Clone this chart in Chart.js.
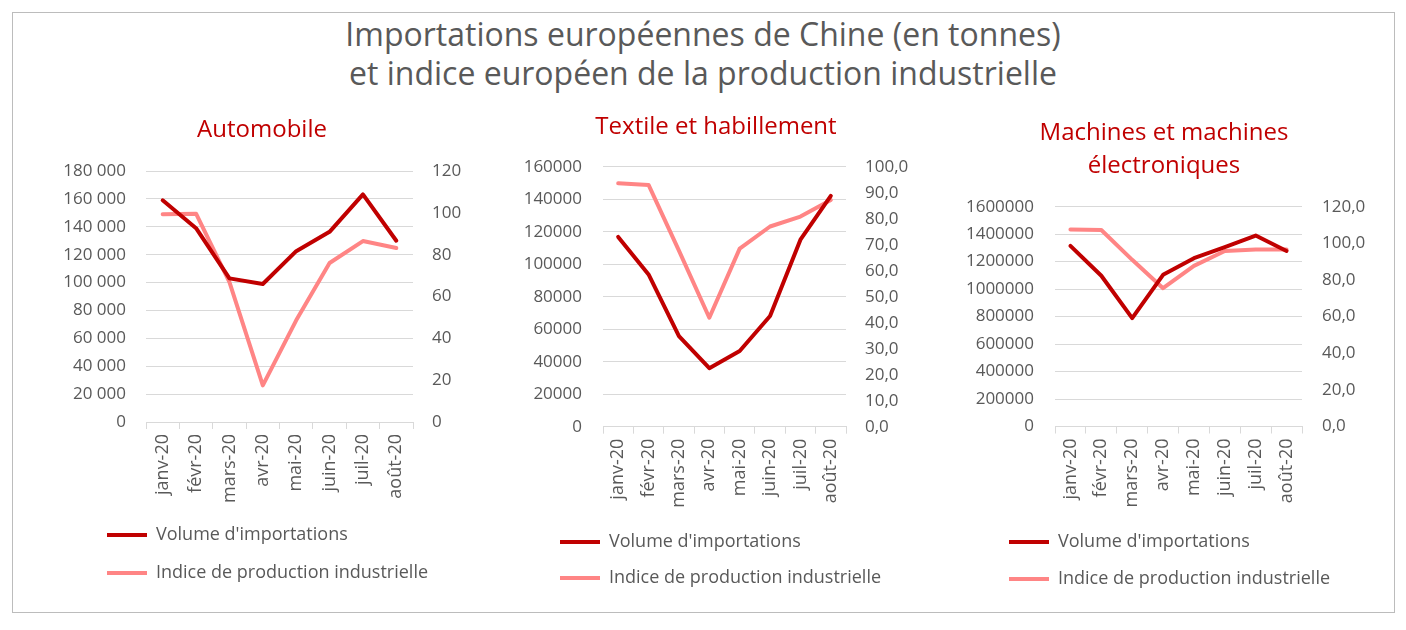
<!DOCTYPE html>
<html>
<head>
<meta charset="utf-8">
<script src="https://cdn.jsdelivr.net/npm/chart.js@4.4.1/dist/chart.umd.min.js"></script>
<style>
  html, body { margin:0; padding:0; background:#fff; }
  body { width:1406px; height:630px; position:relative; overflow:hidden; font-family:'Open Sans', sans-serif; }
  #frame { position:absolute; left:12px; top:12px; width:1381px; height:599px; border:1px solid #bcbcbc; }
  #mainTitle { position:absolute; left:0; width:1406px; top:14px; text-align:center; font-size:32px; line-height:39px; color:#595959; }
  canvas { position:absolute; }
</style>
</head>
<body>
<div id="frame"></div>
<div id="mainTitle">Importations européennes de Chine (en tonnes)<br>et indice européen de la production industrielle</div>
<canvas id="c1" style="left:30px;top:108px;width:464px;height:484px"></canvas>
<canvas id="c2" style="left:490px;top:100px;width:452px;height:497px"></canvas>
<canvas id="c3" style="left:940px;top:100px;width:448px;height:498px"></canvas>
<script>
// ---- data ----
const months = ['janv-20','févr-20','mars-20','avr-20','mai-20','juin-20','juil-20','août-20'];
const seriesNames = ["Volume d'importations", 'Indice de production industrielle'];

const autoVolume = [159000, 139000, 103000, 99000, 122500, 136400, 163200, 130000];
const autoIndex  = [99.3, 99.6, 66.9, 17.5, 48.6, 76.0, 86.5, 83.2];

const textileVolume = [116800, 93700, 55800, 36000, 46600, 68100, 115100, 142100];
const textileIndex  = [93.6, 93.0, 67.7, 41.9, 68.5, 77.0, 80.8, 87.2];

const machinesVolume = [1315000, 1097000, 789000, 1104000, 1225000, 1305000, 1390000, 1278000];
const machinesIndex  = [107.6, 107.3, 91.0, 75.5, 87.7, 95.8, 96.7, 96.7];

const panelTitles = ['Automobile', 'Textile et habillement', ['Machines et machines', 'électroniques']];

// ---- styles ----
const DARK = '#C00000';
const LIGHT = '#FF8585';
const GRAY = '#595959';
const GRID = '#D9D9D9';
Chart.defaults.font.family = "'Open Sans', sans-serif";
Chart.defaults.color = GRAY;

const fmtSpace = v => String(v).replace(/\B(?=(\d{3})+(?!\d))/g, ' ');
const fmtPlain = v => String(v);
const fmtComma1 = v => Number(v).toFixed(1).replace('.', ',');

// shifts the (vertical, start-aligned) legend horizontally after layout
const legendShift = {
  id: 'legendShift',
  afterLayout(chart, args, opts) {
    const lg = chart.legend;
    if (lg && opts.dx) { lg.left += opts.dx; lg.right += opts.dx; }
  }
};

function makeChart(id, p) {
  new Chart(document.getElementById(id), {
    type: 'line',
    plugins: [legendShift],
    data: {
      labels: months,
      datasets: [
        { label: seriesNames[0], data: p.volume, yAxisID: 'y', borderColor: DARK, backgroundColor: DARK,
          borderWidth: 4, pointRadius: 0, tension: 0, borderCapStyle: 'round', borderJoinStyle: 'round' },
        { label: seriesNames[1], data: p.index, yAxisID: 'y1', borderColor: LIGHT, backgroundColor: LIGHT,
          borderWidth: 4, pointRadius: 0, tension: 0, borderCapStyle: 'round', borderJoinStyle: 'round' }
      ]
    },
    options: {
      responsive: false,
      animation: false,
      devicePixelRatio: 1,
      layout: { padding: { left: 0, right: 0, top: 0, bottom: 0 } },
      plugins: {
        tooltip: { enabled: false },
        legendShift: { dx: p.legDx },
        title: {
          display: true, text: p.title, color: DARK,
          font: { size: 24, weight: 'normal', lineHeight: p.titleLH },
          padding: { top: p.titleTop, bottom: p.titleBottom }
        },
        legend: {
          position: 'bottom', align: 'start',
          labels: {
            usePointStyle: true, pointStyle: 'line', pointStyleWidth: 40,
            padding: p.legPad, color: GRAY, font: { size: 18 }
          }
        }
      },
      scales: {
        x: {
          offset: true,
          grid: { offset: true, drawOnChartArea: false, drawTicks: true, tickLength: 7, color: GRID },
          border: { display: true, color: GRID, width: 1 },
          ticks: { minRotation: 90, maxRotation: 90, autoSkip: false, padding: 5, color: GRAY, font: { size: 18 } },
          afterFit: s => { s.height = p.xH; }
        },
        y: {
          position: 'left', min: 0, max: p.yMax,
          grid: { color: GRID, drawTicks: false, lineWidth: 1 },
          border: { display: false },
          ticks: { stepSize: p.yStep, padding: p.yPad, color: GRAY, font: { size: 17 }, callback: v => p.yFmt(v) },
          afterFit: s => { s.width = p.yW; }
        },
        y1: {
          position: 'right', min: 0, max: p.y1Max,
          grid: { drawOnChartArea: false, drawTicks: false },
          border: { display: false },
          ticks: { stepSize: p.y1Step, padding: p.y1Pad, color: GRAY, font: { size: 17 }, callback: v => p.y1Fmt(v) },
          afterFit: s => { s.width = p.y1W; }
        }
      }
    }
  });
}

makeChart('c1', {
  title: panelTitles[0], volume: autoVolume, index: autoIndex,
  titleLH: 1.2, titleTop: 7.6, titleBottom: 26.6, legPad: 20, legDx: 57, xH: 84,
  yMax: 180000, yStep: 20000, yFmt: fmtSpace, yPad: 20, yW: 116,
  y1Max: 120, y1Step: 20, y1Fmt: fmtPlain, y1Pad: 19, y1W: 81
});
makeChart('c2', {
  title: panelTitles[1], volume: textileVolume, index: textileIndex,
  titleLH: 1.2, titleTop: 12.6, titleBottom: 25.3, legPad: 18, legDx: 52, xH: 88.3,
  yMax: 160000, yStep: 20000, yFmt: fmtPlain, yPad: 21, yW: 113,
  y1Max: 100, y1Step: 10, y1Fmt: fmtComma1, y1Pad: 19, y1W: 96
});
makeChart('c3', {
  title: panelTitles[2], volume: machinesVolume, index: machinesIndex,
  titleLH: 1.375, titleTop: 16.5, titleBottom: 24.2, legPad: 19, legDx: 50, xH: 87.5,
  yMax: 1600000, yStep: 200000, yFmt: fmtPlain, yPad: 21, yW: 115,
  y1Max: 120, y1Step: 20, y1Fmt: fmtComma1, y1Pad: 20, y1W: 86
});
</script>
</body>
</html>
